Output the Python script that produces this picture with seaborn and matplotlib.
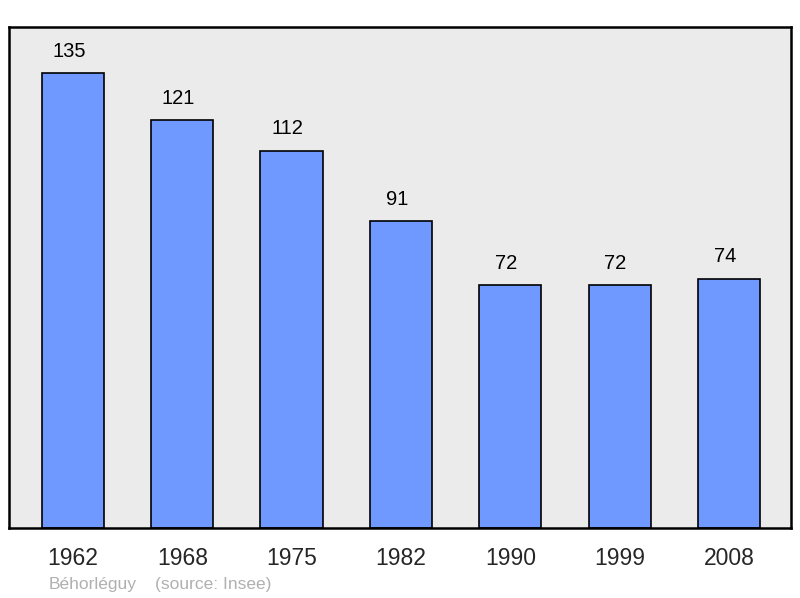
import pandas as pd
import matplotlib.pyplot as plt
import seaborn as sns

sns.set_style("white")
plt.rcParams['font.family'] = ['Liberation Sans', 'DejaVu Sans']

# Population by census year
years = ['1962', '1968', '1975', '1982', '1990', '1999', '2008']
population = [135, 121, 112, 91, 72, 72, 74]
df = pd.DataFrame({'year': years, 'population': population})

fig = plt.figure(figsize=(8, 5.98), dpi=100)
ax = fig.add_axes([0.01125, 0.117, 0.9775, 0.8378])
ax.set_facecolor('#ebebeb')

sns.barplot(x='year', y='population', data=df, color='#7099ff',
            width=0.57, edgecolor='black', linewidth=1.2, saturation=1, ax=ax)

# value labels above each bar (slightly left of centre, as in the original)
for i, v in enumerate(population):
    ax.annotate(str(v), (i, v), xytext=(-3, 9), textcoords='offset points',
                ha='center', va='bottom', fontsize=14.5, color='black')

ax.set_xlim(-0.585, 6.567)
ax.set_ylim(0, 148.7)
ax.set_yticks([])
ax.set_xlabel('')
ax.set_ylabel('')
ax.tick_params(axis='x', length=0, labelsize=16.5, pad=14)
for s in ax.spines.values():
    s.set_visible(True)
    s.set_color('black')
    s.set_linewidth(1.8)

fig.text(49 / 800, 1 - 584 / 598, 'Béhorléguy', color='#b0b0b0',
         fontsize=12.5, va='center', ha='left')
fig.text(155 / 800, 1 - 584 / 598, '(source: Insee)', color='#b0b0b0',
         fontsize=12.5, va='center', ha='left')

plt.savefig('out.png', dpi=100)
